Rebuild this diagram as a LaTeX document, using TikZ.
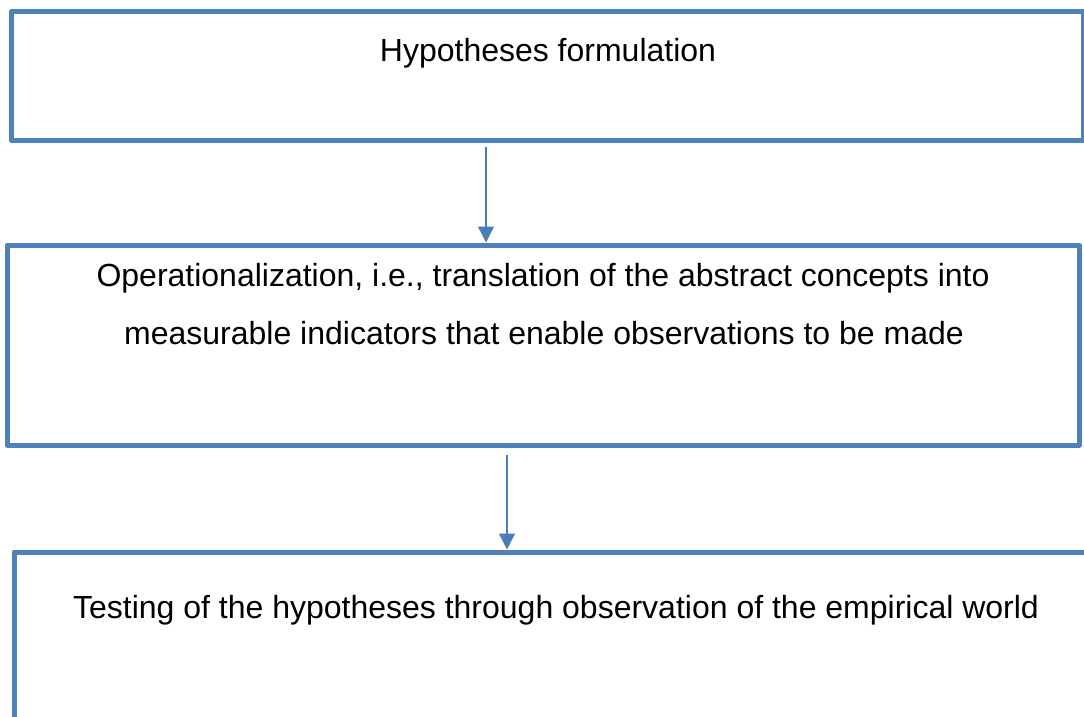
\documentclass[tikz,border=0pt]{standalone}
\usepackage{fontspec}
\setmainfont{Liberation Sans}
\usetikzlibrary{arrows.meta,calc}
\definecolor{boxblue}{HTML}{4F81BD}
\definecolor{arrblue}{HTML}{4A7EBB}
\tikzset{
	stepbox/.style={draw=boxblue, line width=5pt, rectangle, inner sep=0pt},
	txt/.style={anchor=base, inner sep=0pt, font=\fontsize{32}{38}\selectfont},
	arr/.style={draw=arrblue, line width=1.4pt, -{Triangle[width=16pt,length=16pt]}}
}
\begin{document}
\begin{tikzpicture}[x=1pt, y=-1pt, line join=round]
				\useasboundingbox (0,0) rectangle (1084,717);
				\clip (0,0) rectangle (1084,717);
				\node[stepbox, minimum width=1072pt, minimum height=128pt] (hyp) at (547,76) {};
				\node[stepbox, minimum width=1072pt, minimum height=200pt] (oper) at (543,345) {};
				\node[stepbox, minimum width=1090pt, minimum height=220pt] (test) at (559,662) {};
				\node[txt] (hyptxt) at (548,62) {Hypotheses formulation};
				\node[txt] (opertxta) at (543,286) {Operationalization, i.e., translation of the abstract concepts into};
				\node[txt] (opertxtb) at (544,344) {measurable indicators that enable observations to be made};
				\node[txt] (testtxt) at (556,618) {Testing of the hypotheses through observation of the empirical world};
				\coordinate (a1) at (486,147);
				\coordinate (a2) at (507,455);
				\draw[arr] (a1) -- (a1 |- oper.north);
				\draw[arr] (a2) -- (a2 |- test.north);
			\end{tikzpicture}
\end{document}
